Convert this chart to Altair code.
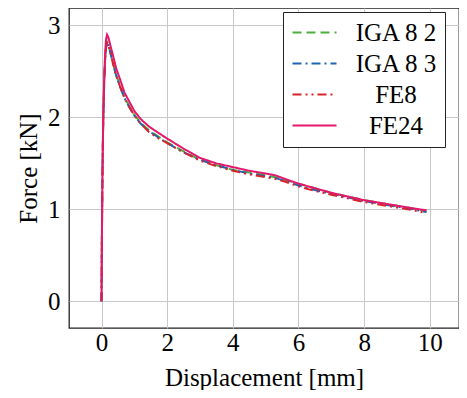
import altair as alt
import pandas as pd

series = ["IGA 8 2", "IGA 8 3", "FE8", "FE24"]
colors = ["#4cae3c", "#1f63b3", "#d8232a", "#e5176b"]
dashes = [[9, 5], [9, 4, 2, 4], [9, 4, 2, 4, 2, 4], [1, 0]]
widths = [2.0, 2.0, 2.0, 2.6]

x_disp = [0, 0.01, 0.03, 0.05, 0.08, 0.11, 0.14, 0.17, 0.21, 0.28, 0.36, 0.45,
          0.56, 0.7, 0.85, 1.0, 1.2, 1.45, 1.7, 2.0, 2.5, 3.0, 3.5, 4.0, 4.5,
          5.0, 5.3, 5.6, 6.0, 6.5, 7.0, 7.5, 8.0, 8.5, 9.0, 9.5, 9.9]

f_iga82 = [0, 0.6, 1.4, 1.9, 2.35, 2.62, 2.77, 2.82, 2.79, 2.70, 2.58, 2.46,
           2.35, 2.22, 2.12, 2.03, 1.94, 1.86, 1.80, 1.73, 1.63, 1.54, 1.48, 1.43,
           1.40, 1.37, 1.35, 1.32, 1.28, 1.23, 1.18, 1.14, 1.10, 1.07, 1.04, 1.01, 0.98]
f_iga83 = [0, 0.6, 1.4, 1.9, 2.35, 2.62, 2.77, 2.81, 2.78, 2.69, 2.57, 2.45,
           2.34, 2.21, 2.11, 2.02, 1.93, 1.85, 1.79, 1.72, 1.62, 1.54, 1.48, 1.43,
           1.39, 1.36, 1.34, 1.31, 1.26, 1.21, 1.17, 1.13, 1.09, 1.06, 1.03, 1.00, 0.97]
f_fe8 = [0, 0.6, 1.4, 1.9, 2.35, 2.62, 2.77, 2.81, 2.78, 2.69, 2.57, 2.45,
         2.34, 2.21, 2.11, 2.02, 1.93, 1.84, 1.78, 1.72, 1.62, 1.53, 1.47, 1.42,
         1.38, 1.35, 1.33, 1.30, 1.25, 1.20, 1.16, 1.12, 1.08, 1.05, 1.02, 0.99, 0.96]
f_fe24 = [0, 0.6, 1.4, 1.95, 2.4, 2.7, 2.85, 2.90, 2.87, 2.77, 2.66, 2.53,
          2.42, 2.27, 2.17, 2.07, 1.98, 1.90, 1.84, 1.77, 1.66, 1.56, 1.50, 1.46,
          1.42, 1.39, 1.37, 1.33, 1.28, 1.23, 1.18, 1.14, 1.10, 1.07, 1.04, 1.01, 0.99]

x_ticks = [0, 2, 4, 6, 8, 10]
y_ticks = [0, 1, 2, 3]

rows = []
for name, ys in zip(series, [f_iga82, f_iga83, f_fe8, f_fe24]):
    for i, (xv, yv) in enumerate(zip(x_disp, ys)):
        rows.append({"series": name, "disp": xv, "force": yv, "i": i})
df = pd.DataFrame(rows)

FONT = "Liberation Serif"

leg = alt.Legend(
    title=None, orient="none", legendX=214, legendY=4,
    symbolType="M-1,0L3,0", symbolSize=484, symbolStrokeWidth=2.2,
    labelFont=FONT, labelFontSize=25, labelColor="black",
    labelAlign="center", labelOffset=80, labelLimit=0,
    strokeColor="#222", fillColor="white", padding=8, rowPadding=5,
    cornerRadius=0,
)

chart = alt.Chart(df).mark_line().encode(
    x=alt.X("disp:Q", title="Displacement [mm]",
            scale=alt.Scale(domain=[-0.99, 10.89], nice=False, zero=False),
            axis=alt.Axis(values=x_ticks, labelPadding=2, titlePadding=10)),
    y=alt.Y("force:Q", title="Force [kN]",
            scale=alt.Scale(domain=[-0.29, 3.19], nice=False, zero=False),
            axis=alt.Axis(values=y_ticks, labelPadding=9, titlePadding=6)),
    color=alt.Color("series:N", scale=alt.Scale(domain=series, range=colors), legend=leg),
    strokeDash=alt.StrokeDash("series:N", scale=alt.Scale(domain=series, range=dashes), legend=leg),
    strokeWidth=alt.StrokeWidth("series:N", scale=alt.Scale(domain=series, range=widths), legend=leg),
    order="i:Q",
).properties(
    width=451, height=382, padding={"left": 8, "top": 0, "right": 0, "bottom": 0},
    autosize=alt.AutoSizeParams(type="fit", contains="padding"),
).configure_axis(
    grid=True, gridColor="#c8c8c8", gridWidth=1, domain=False, ticks=False,
    labelFont=FONT, labelFontSize=25, labelColor="black",
    titleFont=FONT, titleFontSize=25, titleFontWeight="normal", titleColor="black",
).configure_view(stroke="#222", strokeWidth=1.3)

chart.save("out.html", embed_options={"renderer": "svg", "actions": False})
